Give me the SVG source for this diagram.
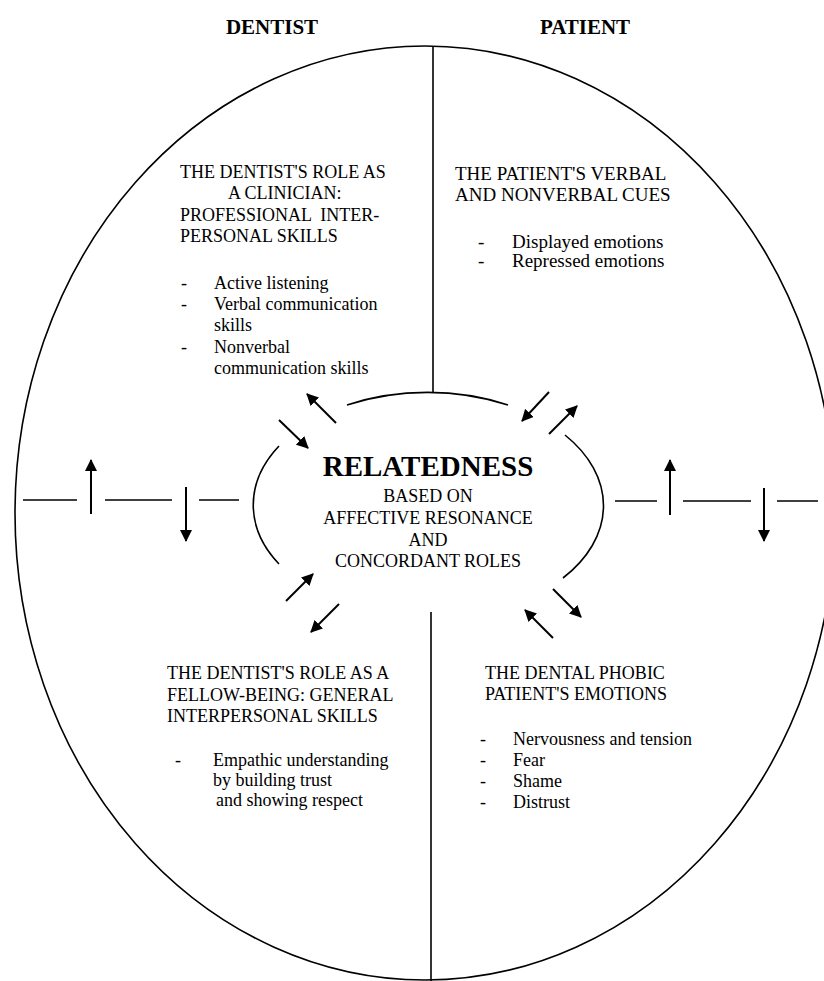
<svg xmlns="http://www.w3.org/2000/svg" width="824" height="981" viewBox="0 0 824 981">
<defs>
<marker id="ah" viewBox="0 0 12 12" refX="11" refY="6" markerWidth="12" markerHeight="12" orient="auto" markerUnits="userSpaceOnUse">
<path d="M0,0 L12,6 L0,12 z" fill="#000"/>
</marker>
<style>
.t{font-family:"Liberation Serif","Times New Roman",serif;font-size:18px;fill:#000}
.t19{font-family:"Liberation Serif","Times New Roman",serif;font-size:19px;fill:#000}
.h{font-family:"Liberation Serif","Times New Roman",serif;font-weight:bold;font-size:21px;fill:#000}
.ln{stroke:#000;stroke-width:1.6;fill:none}
.ar{stroke:#000;stroke-width:2;fill:none;marker-end:url(#ah)}
</style>
</defs>
<rect width="824" height="981" fill="#fff"/>
<g id="label-dentist"><text class="h" x="272" y="34" text-anchor="middle">DENTIST</text></g>
<g id="label-patient"><text class="h" x="585" y="34" text-anchor="middle">PATIENT</text></g>
<g id="connectors">
<ellipse class="ln" cx="425" cy="513" rx="410" ry="467"/>
<line class="ln" x1="433" y1="46" x2="433" y2="393"/>
<line class="ln" x1="431" y1="612" x2="431" y2="981"/>
<path class="ln" d="M347,405 A175,113 0 0 1 508,405"/>
<path class="ln" d="M279,446 A175,113 0 0 0 279,564"/>
<path class="ln" d="M565,435 A175,113 0 0 1 563,578"/>
<line class="ln" x1="23" y1="500" x2="77" y2="500"/>
<line class="ln" x1="105" y1="500" x2="172" y2="500"/>
<line class="ln" x1="199" y1="500" x2="239" y2="500"/>
<line class="ln" x1="615" y1="501" x2="657" y2="501"/>
<line class="ln" x1="683" y1="501" x2="751" y2="501"/>
<line class="ln" x1="777" y1="501" x2="818" y2="501"/>
<line class="ar" x1="91" y1="514" x2="91" y2="460"/>
<line class="ar" x1="186" y1="487" x2="186" y2="541"/>
<line class="ar" x1="670" y1="515" x2="670" y2="460"/>
<line class="ar" x1="764" y1="488" x2="764" y2="541"/>
<line class="ar" x1="336" y1="423" x2="307" y2="394"/>
<line class="ar" x1="279" y1="420" x2="308" y2="448"/>
<line class="ar" x1="549" y1="392" x2="522" y2="421"/>
<line class="ar" x1="549" y1="434" x2="577" y2="406"/>
<line class="ar" x1="286" y1="601" x2="313" y2="574"/>
<line class="ar" x1="339" y1="604" x2="311" y2="632"/>
<line class="ar" x1="553" y1="589" x2="581" y2="617"/>
<line class="ar" x1="553" y1="638" x2="525" y2="610"/>
</g>
<g id="relatedness">
<text x="428" y="476" text-anchor="middle" style="font-family:'Liberation Serif','Times New Roman',serif;font-weight:bold;font-size:29px">RELATEDNESS</text>
<text class="t" x="428" y="502" text-anchor="middle">BASED ON</text>
<text class="t" x="428" y="524" text-anchor="middle">AFFECTIVE RESONANCE</text>
<text class="t" x="428" y="546" text-anchor="middle">AND</text>
<text class="t" x="428" y="567" text-anchor="middle">CONCORDANT ROLES</text>
</g>
<g id="dentist-clinician">
<text class="t" x="180" y="178">THE DENTIST'S ROLE AS</text>
<text class="t" x="228" y="199">A CLINICIAN:</text>
<text class="t" x="180" y="221" xml:space="preserve">PROFESSIONAL  INTER-</text>
<text class="t" x="180" y="242">PERSONAL SKILLS</text>
<text class="t" x="181" y="289">-</text>
<text class="t" x="214" y="289">Active listening</text>
<text class="t" x="181" y="310">-</text>
<text class="t" x="214" y="310">Verbal communication</text>
<text class="t" x="214" y="331">skills</text>
<text class="t" x="181" y="353">-</text>
<text class="t" x="214" y="353">Nonverbal</text>
<text class="t" x="214" y="374">communication skills</text>
</g>
<g id="patient-cues">
<text class="t19" x="455" y="180">THE PATIENT'S VERBAL</text>
<text class="t19" x="455" y="201">AND NONVERBAL CUES</text>
<text class="t19" x="478" y="248">-</text>
<text class="t19" x="512" y="248">Displayed emotions</text>
<text class="t19" x="478" y="267">-</text>
<text class="t19" x="512" y="267">Repressed emotions</text>
</g>
<g id="dentist-fellow">
<text class="t" x="167" y="679">THE DENTIST'S ROLE AS A</text>
<text class="t" x="167" y="701">FELLOW-BEING: GENERAL</text>
<text class="t" x="167" y="722">INTERPERSONAL SKILLS</text>
<text class="t" x="175" y="766">-</text>
<text class="t" x="213" y="766">Empathic understanding</text>
<text class="t" x="213" y="786">by building trust</text>
<text class="t" x="216" y="806">and showing respect</text>
</g>
<g id="patient-emotions">
<text class="t" x="485" y="679">THE DENTAL PHOBIC</text>
<text class="t" x="485" y="700">PATIENT'S EMOTIONS</text>
<text class="t" x="480" y="745">-</text>
<text class="t" x="513" y="745">Nervousness and tension</text>
<text class="t" x="480" y="766">-</text>
<text class="t" x="513" y="766">Fear</text>
<text class="t" x="480" y="787">-</text>
<text class="t" x="513" y="787">Shame</text>
<text class="t" x="480" y="808">-</text>
<text class="t" x="513" y="808">Distrust</text>
</g>
</svg>
